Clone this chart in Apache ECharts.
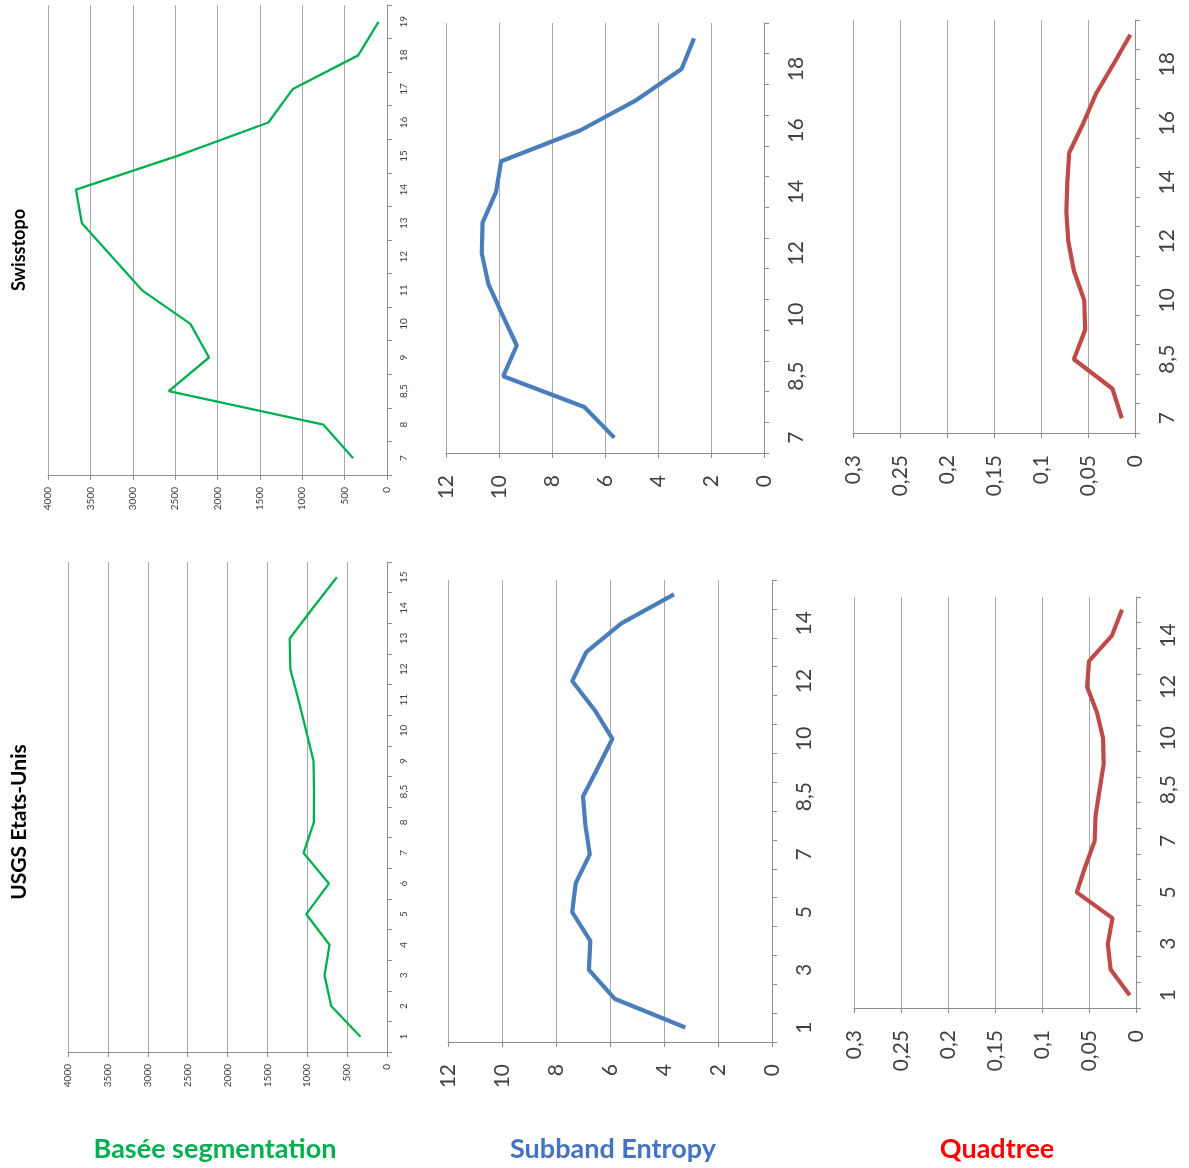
<!DOCTYPE html>
<html><head><meta charset="utf-8">
<script src="https://cdn.jsdelivr.net/npm/echarts@6/dist/echarts.min.js"></script>
<style>html,body{margin:0;padding:0;background:#fff}#c{width:1189px;height:1168px}</style>
</head><body><div id="c"></div>
<script>
// ---- data ----
const swissCats = ['7','8','8,5','9','10','11','12','13','14','15','16','17','18','19'];
const usgsCats  = ['1','2','3','4','5','6','7','8','8,5','9','10','11','12','13','14','15'];

const swissSeg     = [400, 750, 2575, 2100, 2320, 2890, 3245, 3600, 3670, 2480, 1400, 1110, 340, 100];
const swissEntropy = [5.65, 6.78, 9.84, 9.33, 9.87, 10.40, 10.65, 10.62, 10.11, 9.92, 6.94, 4.80, 3.11, 2.64];
const swissQuad    = [0.014, 0.024, 0.065, 0.053, 0.054, 0.065, 0.071, 0.073, 0.072, 0.070, 0.055, 0.0415, 0.023, 0.005];

const usgsSeg     = [333, 700, 783, 721, 1012, 729, 1046, 917, 915, 921, 1015, 1110, 1212, 1220, 929, 629];
const usgsEntropy = [3.21, 5.83, 6.78, 6.73, 7.40, 7.27, 6.75, 6.91, 7.0, 6.45, 5.91, 6.57, 7.40, 6.88, 5.58, 3.63];
const usgsQuad    = [0.0067, 0.027, 0.030, 0.025, 0.063, 0.054, 0.044, 0.043, 0.0387, 0.0344, 0.035, 0.0415, 0.052, 0.050, 0.0256, 0.0149];

const titles = ['Swisstopo', 'USGS Etats-Unis'];
const methodLabels = ['Basée segmentation', 'Subband Entropy', 'Quadtree'];

// ---- layout / style ----
const FONT = 'Lato, "Open Sans", sans-serif';
const panels = [
  {cats: swissCats, data: swissSeg,     box:{left:48,  top:5,   width:339, height:470}, max:4000, interval:500,  color:'#00b050', lw:2.3, small:true,  li:0},
  {cats: swissCats, data: swissEntropy, box:{left:446, top:23,  width:318, height:430}, max:12,   interval:2,    color:'#4a7ebb', lw:4.2, small:false, li:1},
  {cats: swissCats, data: swissQuad,    box:{left:853, top:20,  width:282, height:413}, max:0.3,  interval:0.05, color:'#be4b48', lw:4.2, small:false, li:1},
  {cats: usgsCats,  data: usgsSeg,      box:{left:68,  top:562, width:319, height:490}, max:4000, interval:500,  color:'#00b050', lw:2.3, small:true,  li:0},
  {cats: usgsCats,  data: usgsEntropy,  box:{left:448, top:580, width:324, height:462}, max:12,   interval:2,    color:'#4a7ebb', lw:4.2, small:false, li:1},
  {cats: usgsCats,  data: usgsQuad,     box:{left:854, top:597, width:282, height:411}, max:0.3,  interval:0.05, color:'#be4b48', lw:4.2, small:false, li:1}
];

const fmt = v => String(Math.round(v * 100) / 100).replace('.', ',');

const grid = [], xAxis = [], yAxis = [], series = [];
panels.forEach((p, i) => {
  grid.push(Object.assign({containLabel:false}, p.box));
  const fs = p.small ? 10 : 21;
  const mg = p.small ? 12 : 22;
  xAxis.push({
    type:'value', gridIndex:i, min:0, max:p.max, interval:p.interval, inverse:true,
    axisLine:{show:true, lineStyle:{color:'#8c8c8c', width:1}},
    axisTick:{show:true, length:5, lineStyle:{color:'#8c8c8c'}},
    splitLine:{show:true, lineStyle:{color:'#a8a8a8', width:1}},
    axisLabel:{rotate:90, fontSize:fs, fontFamily:FONT, color:'#404040', margin:mg, formatter:fmt}
  });
  yAxis.push({
    type:'category', gridIndex:i, position:'right', data:p.cats, boundaryGap:true,
    axisLine:{show:true, lineStyle:{color:'#8c8c8c', width:1}},
    axisTick:{show:true, length:5, interval:0, lineStyle:{color:'#8c8c8c'}},
    splitLine:{show:false},
    axisLabel:{rotate:90, interval:p.li, fontSize:fs, fontFamily:FONT, color:'#404040', margin:mg}
  });
  series.push({
    type:'line', xAxisIndex:i, yAxisIndex:i, data:p.data, symbol:'none', silent:true,
    lineStyle:{color:p.color, width:p.lw}, animation:false
  });
});

const graphic = [
  {type:'text', x:19, y:250, rotation:Math.PI/2, style:{text:titles[0], font:'bold 18px ' + FONT, fill:'#000', textAlign:'center', textVerticalAlign:'middle'}},
  {type:'text', x:19, y:822, rotation:Math.PI/2, style:{text:titles[1], font:'bold 21px ' + FONT, fill:'#000', textAlign:'center', textVerticalAlign:'middle'}},
  {type:'text', x:215, y:1149, style:{text:methodLabels[0], font:'bold 27px ' + FONT, fill:'#00b050', textAlign:'center', textVerticalAlign:'middle'}},
  {type:'text', x:613, y:1149, style:{text:methodLabels[1], font:'bold 27px ' + FONT, fill:'#4472c4', textAlign:'center', textVerticalAlign:'middle'}},
  {type:'text', x:997, y:1149, style:{text:methodLabels[2], font:'bold 27px ' + FONT, fill:'#ff0000', textAlign:'center', textVerticalAlign:'middle'}}
];

const chart = echarts.init(document.getElementById('c'), null, {renderer:'canvas'});
chart.setOption({animation:false, backgroundColor:'#fff', grid, xAxis, yAxis, series, graphic});
</script></body></html>
